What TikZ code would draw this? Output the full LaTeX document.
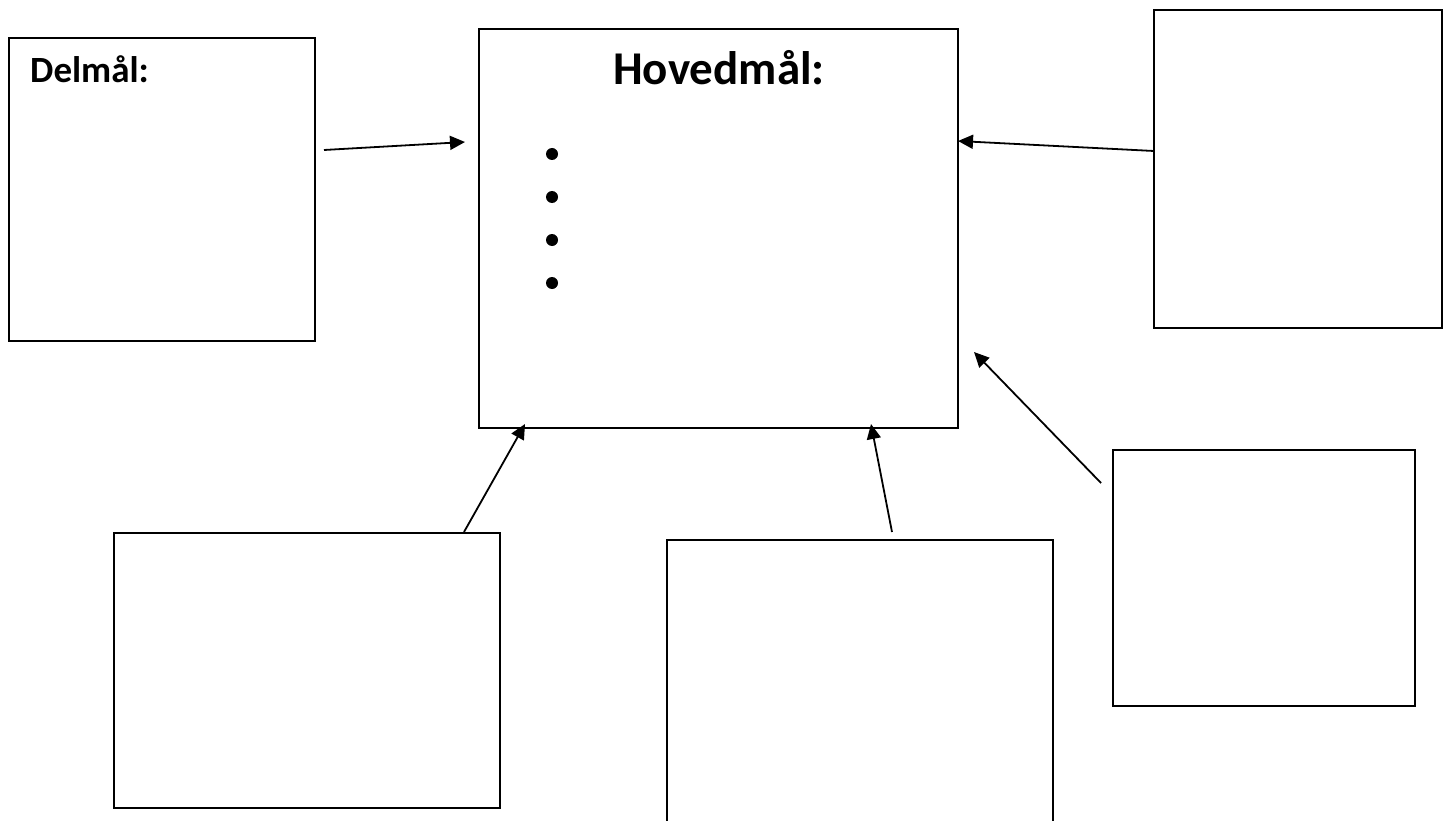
\documentclass[tikz,border=0pt]{standalone}
\usepackage{fontspec}
\setmainfont{Carlito}
\usetikzlibrary{arrows.meta}
\begin{document}
\begin{tikzpicture}[x=1pt,y=-1pt,
  box/.style={draw, line width=2pt, inner sep=0pt, anchor=north west},
  conn/.style={line width=1.8pt, -{Triangle[length=15pt,width=14pt]}},
  bullet/.style={circle, fill=black, inner sep=0pt, minimum size=12pt},
  lbl/.style={inner sep=0pt, font=\bfseries}]
\useasboundingbox (0,0) rectangle (1447,821);
% boxes
\node[box, minimum width=306pt, minimum height=303pt] (delmal) at (8,37) {};
\node[box, minimum width=479pt, minimum height=399pt] (hoved) at (478,28) {};
\node[box, minimum width=288pt, minimum height=318pt] (topright) at (1153,9) {};
\node[box, minimum width=386pt, minimum height=275pt] (botleft) at (113,532) {};
\node[box, minimum width=386pt, minimum height=300pt] (botmid) at (666,539) {};
\node[box, minimum width=302pt, minimum height=256pt] (midright) at (1112,449) {};
% texts
\node[lbl, anchor=base west, font=\bfseries\fontsize{37}{44}\selectfont] (delmaltxt) at (30,83) {Delmål:};
\node[lbl, anchor=base, font=\bfseries\fontsize{47}{56}\selectfont] (hovedtxt) at (719,85) {Hovedmål:};
% bullets
\node[bullet] (b1) at (552,154) {};
\node[bullet] (b2) at (552,197) {};
\node[bullet] (b3) at (552,240) {};
\node[bullet] (b4) at (552,283) {};
% connector ends
\coordinate (s1) at (324,150);
\coordinate (t1) at (465,142);
\coordinate (s2) at (1154,151);
\coordinate (t2) at (958,141);
\coordinate (s3) at (464,532);
\coordinate (t3) at (525,424);
\coordinate (s4) at (892,532);
\coordinate (t4) at (871,424);
\coordinate (s5) at (1101,483);
\coordinate (t5) at (974,352);
% connectors
\draw[conn] (s1) -- (t1);
\draw[conn] (s2) -- (t2);
\draw[conn] (s3) -- (t3);
\draw[conn] (s4) -- (t4);
\draw[conn] (s5) -- (t5);
\end{tikzpicture}
\end{document}
